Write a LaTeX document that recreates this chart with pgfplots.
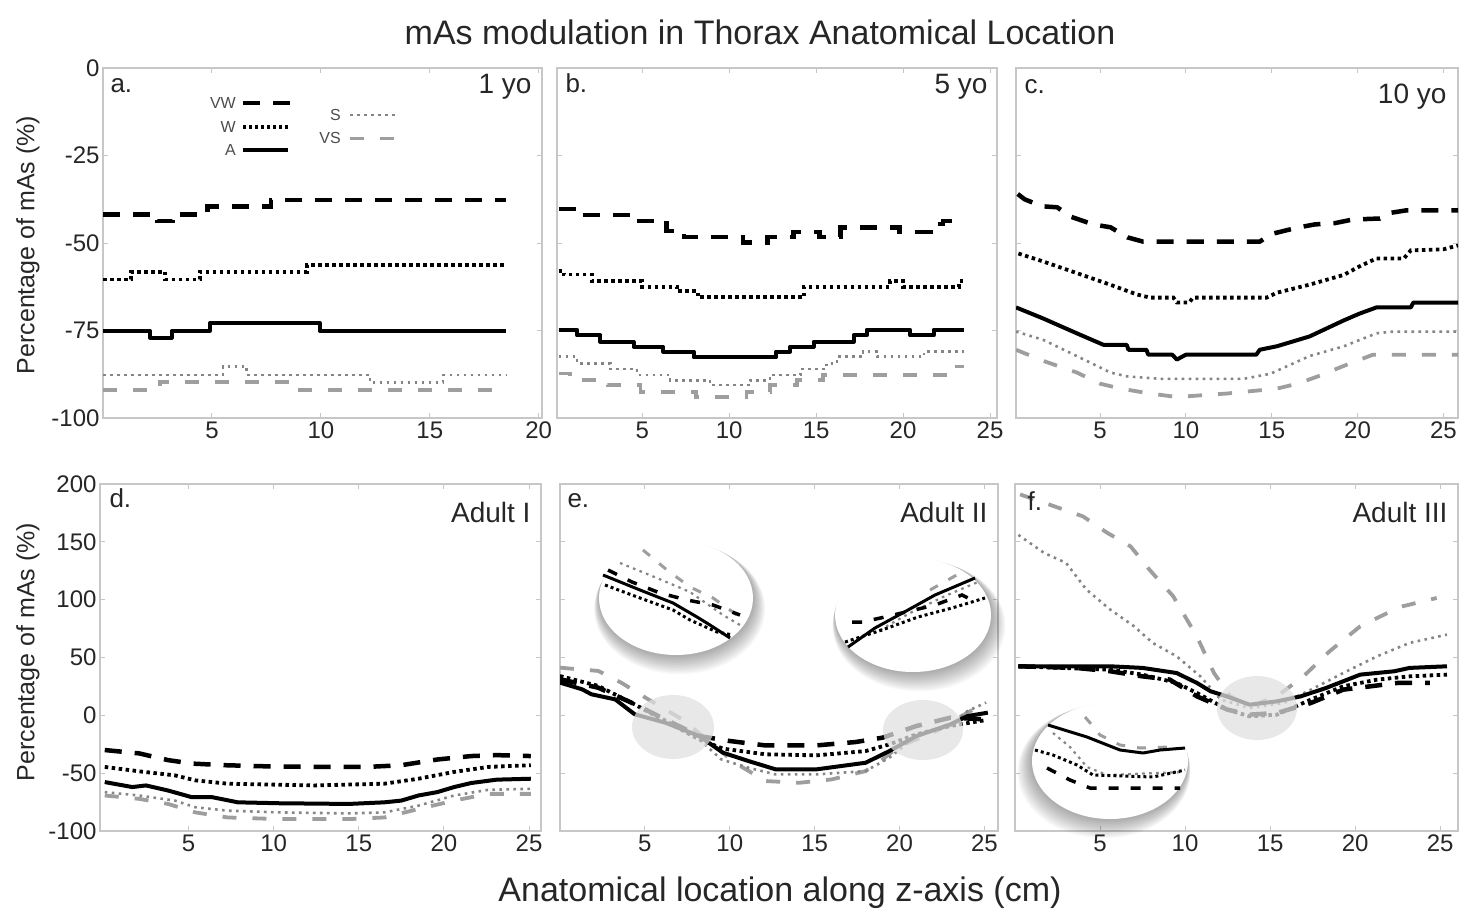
\documentclass[border=0pt]{standalone}
\usepackage{fontspec}
\setmainfont{Liberation Sans}
\usepackage{pgfplots}
\pgfplotsset{compat=1.18}

\definecolor{frame}{gray}{0.78}
\definecolor{sgray}{gray}{0.52}
\definecolor{vsgray}{gray}{0.62}
\definecolor{txt}{gray}{0.15}

\pgfplotsset{
 panel/.style={
   scale only axis, anchor=north west,
   axis line style={draw=frame, line width=1.3pt},
   tick style={draw=frame, line width=1pt},
   major tick length=5pt, tick align=inside,
   xtick={5,10,15,20,25},
   tick label style={font=\fontsize{24}{24}\selectfont, text=txt},
   /pgf/number format/assume math mode=true,
   clip=true,
 },
 inset/.style={scale only axis, anchor=north west, hide axis, clip=false},
}
\tikzset{
 lvw/.style={black, line width=4.5pt, dash pattern=on 17pt off 13pt},
 lw/.style={black, line width=3.8pt, dash pattern=on 3.5pt off 3.5pt},
 la/.style={black, line width=4pt, line join=round},
 ls/.style={sgray, line width=2.6pt, dash pattern=on 2.6pt off 4.4pt},
 lvs/.style={vsgray, line width=3.8pt, dash pattern=on 14pt off 16pt},
}
\newcommand{\pl}{\fontsize{26}{26}\selectfont}
\newcommand{\nm}{\fontsize{28}{28}\selectfont}

\begin{document}
\begin{tikzpicture}[x=1pt,y=1pt]
\useasboundingbox (0,0) rectangle (1460,-916);

% ---------------- a. 1 yo
\begin{axis}[panel, at={(103pt,-68pt)}, width=439pt, height=350pt,
  xmin=0, xmax=20.15, ymin=-100, ymax=0, ytick={-100,-75,-50,-25,0}]
\addplot[lvw, const plot] coordinates {(0,-41.8) (2.5,-43.7) (3.2,-41.8) (4.8,-39.6) (7.7,-37.7) (18.5,-37.7)};
\addplot[lw, const plot] coordinates {(0,-60.4) (1.3,-58.2) (2.85,-60.4) (4.45,-58.2) (9.35,-56.3) (18.5,-56.3)};
\addplot[la, const plot] coordinates {(0,-75.1) (2.15,-77) (3.15,-75.1) (4.9,-72.9) (9.95,-75.1) (18.5,-75.1)};
\addplot[ls, const plot] coordinates {(0,-87.7) (5.5,-85.3) (6.6,-87.7) (12.25,-89.8) (15.6,-87.7) (18.5,-87.7)};
\addplot[lvs, const plot] coordinates {(0,-91.9) (2.6,-89.7) (8.9,-91.9) (18.5,-91.9)};
\node[anchor=base west, xshift=4pt, yshift=-24pt, font=\pl, text=txt] at (rel axis cs:0,1) {a.};
\node[anchor=base east, xshift=-7pt, yshift=-25pt, font=\nm, text=txt] at (rel axis cs:1,1) {1 yo};
\end{axis}

% legend
\begin{scope}[every node/.style={font=\fontsize{16}{16}\selectfont, text=black!70, anchor=east, inner sep=0pt}]
\node at (236,-103) {VW}; \draw[lvw, line width=4pt] (243,-103) -- (290,-103);
\node at (236,-127) {W};  \draw[lw, line width=3.2pt, dash pattern=on 3pt off 3pt] (243,-127) -- (288,-127);
\node at (236,-150) {A};  \draw[la] (243,-150) -- (288,-150);
\node at (341,-115) {S};  \draw[ls] (350,-115) -- (396,-115);
\node at (341,-138) {VS}; \draw[lvs, line width=3pt] (350,-138) -- (396,-138);
\end{scope}

% ---------------- b. 5 yo
\begin{axis}[panel, at={(557pt,-68pt)}, width=440pt, height=350pt,
  xmin=0.1, xmax=25.4, ymin=-100, ymax=0, ytick={-100,-75,-50,-25,0}, yticklabels={}]
\addplot[lvw, const plot] coordinates {(0.2,-40.3) (1.25,-42.0) (4.6,-43.7) (6.4,-46.6) (7.4,-48.3) (10.8,-49.9) (12.2,-48.3) (13.7,-46.8) (15.2,-48.3) (16.4,-45.6) (19.8,-46.8) (21.6,-44.6) (22.3,-43.7) (23.5,-43.7)};
\addplot[lw, const plot] coordinates {(0.2,-57.9) (0.48,-59.0) (2.1,-60.9) (5.0,-62.5) (7.0,-63.8) (8.2,-65.5) (14.3,-62.5) (19.25,-60.9) (20.0,-62.5) (23.2,-60.9) (23.5,-60.9)};
\addplot[la, const plot] coordinates {(0.2,-74.8) (1.25,-76.4) (2.6,-78.2) (4.5,-79.6) (6.2,-81.0) (7.95,-82.7) (12.7,-81.0) (13.5,-79.6) (14.85,-78.2) (17.15,-76.4) (17.9,-74.8) (20.4,-76.4) (21.75,-74.8) (23.5,-74.8)};
\addplot[ls, const plot] coordinates {(0.2,-82.5) (1.25,-84.4) (3.16,-86.0) (4.7,-87.7) (6.6,-89.2) (8.9,-90.6) (11.2,-89.2) (12.35,-87.7) (14.1,-86.0) (15.6,-84.4) (16.2,-82.5) (17.7,-81.0) (18.5,-82.5) (21.2,-81.0) (23.5,-81.0)};
\addplot[lvs, const plot] coordinates {(0.2,-87.3) (0.86,-89.2) (3.0,-90.6) (4.9,-92.5) (8.1,-94.0) (11.0,-92.5) (12.35,-90.6) (13.9,-89.2) (15.4,-87.7) (22.7,-85.3) (23.5,-85.3)};
\node[anchor=base west, xshift=5pt, yshift=-24pt, font=\pl, text=txt] at (rel axis cs:0,1) {b.};
\node[anchor=base east, xshift=-6pt, yshift=-25pt, font=\nm, text=txt] at (rel axis cs:1,1) {5 yo};
\end{axis}

% ---------------- c. 10 yo
\begin{axis}[panel, at={(1016pt,-68pt)}, width=442pt, height=350pt,
  xmin=0.1, xmax=25.85, ymin=-100, ymax=0, ytick={-100,-75,-50,-25,0}, yticklabels={}]
\addplot[lvw] coordinates {(0.2,-36.0) (0.6,-37.5) (1.6,-39.5) (2.5,-39.8) (3.3,-42.5) (4.6,-44.7) (5.6,-45.5) (6.6,-48.4) (7.5,-49.6) (14.3,-49.6) (15.0,-47.4) (16.5,-45.6) (17.5,-44.7) (18.7,-44.3) (19.7,-43.3) (21.3,-43.0) (21.9,-41.4) (22.8,-40.7) (25.85,-40.7)};
\addplot[lw] coordinates {(0.24,-53.0) (1.7,-55.3) (3.64,-58.6) (5.58,-61.9) (7.14,-64.7) (7.9,-65.6) (9.27,-65.6) (9.47,-67.0) (10.2,-67.0) (10.4,-65.6) (14.7,-65.6) (15.3,-64.2) (17.2,-61.9) (19.2,-59.1) (20.1,-56.7) (21.1,-54.4) (22.7,-54.4) (23.1,-52.1) (25.0,-51.8) (25.85,-50.7)};
\addplot[la] coordinates {(0.1,-68.4) (1.7,-71.6) (3.64,-75.8) (5.2,-79.1) (6.55,-79.1) (6.65,-80.5) (7.7,-80.5) (7.8,-81.9) (9.2,-81.9) (9.47,-83.3) (10.0,-81.9) (14.1,-81.9) (14.3,-80.5) (15.3,-79.5) (17.2,-76.7) (19.2,-72.1) (20.1,-70.2) (21.1,-68.4) (23.1,-68.4) (23.25,-67.0) (25.85,-67.0)};
\addplot[ls] coordinates {(0.1,-75.3) (1.7,-77.7) (3.64,-82.3) (5.6,-87.0) (6.55,-88.1) (8.5,-88.8) (13.35,-88.8) (14.9,-87.4) (17.2,-82.3) (19.2,-79.5) (21.1,-75.8) (22.1,-75.3) (25.85,-75.3)};
\addplot[lvs] coordinates {(0.1,-80.5) (1.7,-83.7) (3.64,-87.0) (5.0,-90.2) (6.2,-91.6) (7.9,-93.0) (9.47,-94.0) (12.4,-93.0) (15.3,-91.6) (16.5,-90.2) (17.8,-87.9) (19.2,-85.1) (20.9,-81.9) (25.85,-81.9)};
\node[anchor=base west, xshift=5pt, yshift=-25pt, font=\pl, text=txt] at (rel axis cs:0,1) {c.};
\node[anchor=base east, xshift=-8pt, yshift=-35pt, font=\nm, text=txt] at (rel axis cs:1,1) {10 yo};
\end{axis}

% ---------------- d. Adult I
\begin{axis}[panel, at={(100pt,-484pt)}, width=441pt, height=347pt,
  xmin=-0.2, xmax=25.7, ymin=-100, ymax=200, ytick={-100,-50,0,50,100,150,200}]
\addplot[lvw] coordinates {(0.08,-30.0) (2.1,-32.9) (3.8,-38.7) (5.2,-41.7) (7.1,-43.1) (9.3,-44.0) (12.4,-44.6) (15.5,-44.6) (17.5,-43.1) (19.6,-38.2) (21.6,-35.2) (23.1,-34.4) (25.1,-35.2)};
\addplot[lw] coordinates {(0.08,-44.6) (2.1,-48.4) (4.2,-51.9) (5.4,-56.2) (7.3,-59.1) (12.4,-60.6) (16.5,-59.1) (18.5,-54.8) (20.6,-48.9) (22.6,-44.6) (25.1,-43.1)};
\addplot[la] coordinates {(0.08,-57.7) (1.7,-62.0) (2.5,-60.6) (3.8,-65.0) (5.2,-70.8) (6.4,-70.8) (7.9,-75.2) (10.3,-76.0) (14.4,-76.6) (16.5,-75.2) (17.5,-73.7) (18.5,-69.3) (19.6,-66.4) (20.6,-62.0) (21.6,-58.5) (23.1,-55.6) (25.1,-54.8)};
\addplot[ls] coordinates {(0.08,-66.4) (2.1,-69.3) (4.2,-73.7) (5.4,-79.5) (7.3,-82.4) (10.3,-83.9) (14.4,-84.8) (16.5,-83.9) (18.5,-78.1) (20.6,-69.3) (22.6,-64.4) (25.1,-63.5)};
\addplot[lvs] coordinates {(0.08,-69.3) (2.1,-72.2) (3.8,-76.6) (5.4,-83.9) (7.3,-88.3) (10.3,-89.7) (14.4,-89.7) (16.5,-88.3) (18.5,-81.0) (20.6,-73.7) (22.6,-67.9) (25.1,-67.9)};
\node[anchor=base west, xshift=6pt, yshift=-23pt, font=\pl, text=txt] at (rel axis cs:0,1) {d.};
\node[anchor=base east, xshift=-7pt, yshift=-38pt, font=\nm, text=txt] at (rel axis cs:1,1) {Adult I};
\end{axis}

% ---------------- e. Adult II
\begin{axis}[panel, at={(560pt,-484pt)}, width=438pt, height=347pt,
  xmin=0, xmax=25.8, ymin=-100, ymax=200, ytick={-100,-50,0,50,100,150,200}, yticklabels={}]
\addplot[lvs] coordinates {(0,41.2) (2.25,38.4) (3.6,28.3) (5.2,13.8) (7.2,-3.5) (9.1,-26.5) (10.3,-41.0) (12.1,-56.8) (14.1,-58.3) (16.0,-55.4) (18.0,-48.2) (19.0,-38.1) (20.0,-26.5) (22.0,-15.0) (24.0,2.3) (25.1,11.0)};
\addplot[ls] coordinates {(0,32.6) (2.25,26.0) (4.2,11.0) (6.2,-3.5) (8.2,-20.8) (9.5,-38.1) (11.1,-45.3) (12.7,-51.1) (15.1,-51.1) (18.0,-48.2) (19.4,-36.6) (21.0,-17.9) (23.0,-9.2) (24.0,3.7) (25.1,11.0)};
\addplot[lvw] coordinates {(0,31.2) (2.25,23.9) (4.2,11.0) (6.2,-3.5) (8.2,-17.9) (10.0,-22.2) (12.1,-26.0) (15.1,-26.0) (17.4,-23.1) (19.0,-19.3) (21.0,-9.2) (23.0,-2.0) (25.1,-3.5)};
\addplot[lw] coordinates {(0,34.0) (2.25,25.4) (4.2,11.0) (6.2,-4.9) (8.2,-20.8) (9.6,-28.8) (12.1,-33.7) (15.1,-34.6) (18.0,-30.9) (19.4,-25.1) (21.0,-16.4) (23.0,-9.2) (25.1,-4.0)};
\addplot[la] coordinates {(0,28.3) (1.3,22.5) (1.85,18.2) (3.25,13.8) (4.4,0.9) (6.2,-6.3) (8.2,-17.9) (9.6,-32.3) (11.1,-39.5) (12.7,-46.7) (15.1,-46.7) (18.0,-41.0) (19.4,-30.9) (21.0,-17.9) (23.0,-7.8) (24.0,-0.6) (25.2,2.3)};
\node[anchor=base west, xshift=4pt, yshift=-23pt, font=\pl, text=txt] at (rel axis cs:0,1) {e.};
\node[anchor=base east, xshift=-7pt, yshift=-38pt, font=\nm, text=txt] at (rel axis cs:1,1) {Adult II};
\end{axis}

% ---------------- f. Adult III
\begin{axis}[panel, at={(1015pt,-484pt)}, width=443pt, height=347pt,
  xmin=0, xmax=26.05, ymin=-100, ymax=200, ytick={-100,-50,0,50,100,150,200}, yticklabels={}]
\addplot[lvs] coordinates {(0.3,191) (2.06,182) (4.0,172) (5.4,158) (6.8,146) (7.9,126) (9.3,103) (10.7,68) (11.7,36.6) (12.65,16.4) (13.8,7.8) (15.4,16.4) (16.96,33.7) (18.5,55.4) (20.3,77) (21.9,88.5) (22.8,94.3) (24.8,101.5)};
\addplot[ls] coordinates {(0.2,156) (1.7,140.5) (3.0,131.8) (4.2,108.7) (5.6,91.4) (7.0,77.0) (8.1,62.6) (9.5,51.1) (10.9,33.7) (12.1,13.6) (13.8,6.3) (15.8,10.7) (17.4,22.2) (19.3,36.6) (21.3,51.1) (23.2,62.6) (25.4,69.8)};
\addplot[lvw] coordinates {(0.2,42.4) (3.6,41.0) (5.6,38.1) (7.5,33.7) (9.1,30.9) (10.7,16.4) (12.5,4.9) (13.8,0.6) (15.4,2.0) (17.4,10.7) (19.3,22.2) (20.9,25.1) (22.5,28.0) (24.4,28.0)};
\addplot[lw] coordinates {(0.2,42.4) (5.6,39.5) (7.5,35.2) (9.5,28.0) (10.7,19.3) (12.5,4.9) (13.8,-0.9) (15.4,0.6) (17.4,13.6) (19.3,25.1) (21.3,30.9) (23.2,33.7) (25.4,35.2)};
\addplot[la] coordinates {(0.2,42.4) (5.6,42.4) (7.5,41.0) (9.5,36.6) (10.7,28.0) (11.5,20.8) (12.45,16.4) (13.8,9.2) (15.4,12.1) (16.8,16.4) (18.3,23.7) (20.3,35.2) (22.3,38.1) (23.2,41.0) (25.4,42.4)};
\node[anchor=base west, xshift=9pt, yshift=-26pt, font=\pl, text=txt] at (rel axis cs:0,1) {f.};
\node[anchor=base east, xshift=-7pt, yshift=-38pt, font=\nm, text=txt] at (rel axis cs:1,1) {Adult III};
\end{axis}

% ---------------- magnifier decorations
\fill[black!12, opacity=0.75] (673,-727) ellipse [x radius=41pt, y radius=32pt];
\fill[black!12, opacity=0.75] (923,-730) ellipse [x radius=40pt, y radius=30pt];
\fill[black!12, opacity=0.75] (1257,-708) ellipse [x radius=40pt, y radius=32pt];

\foreach \cx/\cy/\rx/\ry/\dx in {676/598/77/57/0.3, 913/615/78/57/0.5, 1110/761/78/58/-0.5}{
  \foreach \i in {1,...,12}{
    \fill[black, opacity=0.03] ({\cx+\dx*\i}, {-\cy-0.9*\i}) ellipse [x radius={(\rx+0.7*\i)*1pt}, y radius={(\ry+0.7*\i)*1pt}];
  }
  \fill[white] (\cx,-\cy) ellipse [x radius=\rx pt, y radius=\ry pt];
}

% inset e-left
\begin{axis}[inset, at={(599pt,-541pt)}, width=154pt, height=114pt, xmin=599, xmax=753, ymin=-655, ymax=-541]
\addplot[lvs, line width=3pt, dash pattern=on 9pt off 12pt] coordinates {(643,-550) (667,-570) (690,-587) (713,-598) (737,-615)};
\addplot[ls, line width=2.2pt] coordinates {(620,-563) (657,-578) (690,-592) (723,-615) (740,-625)};
\addplot[lvw, line width=3.5pt, dash pattern=on 10pt off 12pt] coordinates {(608,-570) (632,-582) (660,-593) (687,-600) (713,-605) (740,-615)};
\addplot[la, line width=3pt] coordinates {(603,-575) (640,-590) (673,-603) (697,-617) (710,-625) (730,-638)};
\addplot[lw, line width=3pt, dash pattern=on 3pt off 3pt] coordinates {(605,-585) (640,-598) (673,-610) (690,-620) (717,-632) (733,-635)};
\end{axis}

% inset e-right
\begin{axis}[inset, at={(835pt,-558pt)}, width=157pt, height=114pt, xmin=835, xmax=992, ymin=-672, ymax=-558]
\addplot[lvs, line width=3pt, dash pattern=on 9pt off 12pt] coordinates {(930,-590) (962,-572)};
\addplot[ls, line width=2.2pt] coordinates {(880,-630) (910,-613) (945,-596) (978,-582)};
\addplot[lvw, line width=3.5pt, dash pattern=on 10pt off 12pt] coordinates {(852,-622) (862,-622) (885,-617) (935,-605) (962,-595) (968,-598)};
\addplot[lw, line width=3pt, dash pattern=on 3pt off 3pt] coordinates {(845,-642) (882,-630) (918,-617) (952,-608) (985,-598)};
\addplot[la, line width=3pt] coordinates {(848,-647) (875,-628) (908,-610) (935,-595) (975,-578)};
\end{axis}

% inset f
\begin{axis}[inset, at={(1032pt,-703pt)}, width=156pt, height=116pt, xmin=1032, xmax=1188, ymin=-819, ymax=-703]
\addplot[lvs, line width=3pt, dash pattern=on 9pt off 12pt] coordinates {(1085,-717) (1092,-725) (1100,-735) (1120,-745) (1140,-748) (1170,-747)};
\addplot[ls, line width=2.2pt] coordinates {(1053,-733) (1070,-747) (1087,-767) (1107,-775) (1183,-772)};
\addplot[lw, line width=3pt, dash pattern=on 3pt off 3pt] coordinates {(1035,-750) (1053,-755) (1077,-765) (1093,-775) (1153,-777) (1185,-770)};
\addplot[lvw, line width=3.5pt, dash pattern=on 10pt off 12pt] coordinates {(1047,-768) (1070,-780) (1090,-788) (1180,-788)};
\addplot[la, line width=3pt] coordinates {(1048,-725) (1087,-737) (1120,-750) (1143,-753) (1160,-750) (1185,-748)};
\end{axis}

% ---------------- titles and labels
\node[font=\fontsize{34}{34}\selectfont, text=txt] at (760,-32) {mAs modulation in Thorax Anatomical Location};
\node[font=\fontsize{34}{34}\selectfont, text=txt] at (780,-893) {Anatomical location along z-axis (cm)};
\node[font=\fontsize{25}{25}\selectfont, text=txt, rotate=90] at (28,-245) {Percentage of mAs (\%)};
\node[font=\fontsize{25}{25}\selectfont, text=txt, rotate=90] at (28,-652) {Percentage of mAs (\%)};
\end{tikzpicture}
\end{document}
